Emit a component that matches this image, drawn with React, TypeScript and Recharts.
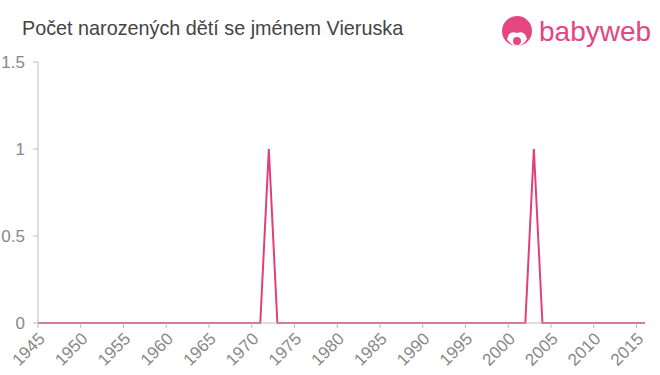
import React from 'react';
import { LineChart, Line, XAxis, YAxis } from 'recharts';

// Years and births per year
const YEARS: number[] = [];
for (let y = 1945; y <= 2016; y++) YEARS.push(y);
const PEAK_YEARS = [1972, 2003];
const COUNTS = YEARS.map((y) => (PEAK_YEARS.includes(y) ? 1 : 0));

const X_TICKS = [1945, 1950, 1955, 1960, 1965, 1970, 1975, 1980, 1985, 1990, 1995, 2000, 2005, 2010, 2015];
const Y_TICKS = [0, 0.5, 1, 1.5];

const TITLE = 'Počet narozených dětí se jménem Vieruska';
const PINK = '#e0407a';
const FONT = '"Liberation Sans", Arial, Helvetica, sans-serif';
const TICK_COLOR = '#888';

const data = YEARS.map((year, i) => ({ year, count: COUNTS[i] }));

function XTick({ x, y, payload }: any) {
  return (
    <text
      x={x + 4}
      y={y + 6}
      fill={TICK_COLOR}
      style={{ fontSize: 17, fontFamily: FONT }}
      textAnchor="end"
      dominantBaseline="central"
      transform={`rotate(-45, ${x + 4}, ${y + 6})`}
    >
      {payload.value}
    </text>
  );
}

function YTick({ x, y, payload }: any) {
  return (
    <text x={x - 6} y={y} fill={TICK_COLOR} style={{ fontSize: 17, fontFamily: FONT }} textAnchor="end" dominantBaseline="central">
      {payload.value}
    </text>
  );
}

function Logo() {
  return (
    <svg width={165} height={42} style={{ position: 'absolute', left: 498, top: 11 }}>
      {/* head */}
      <circle cx={19} cy={20} r={15} fill="#e4467f" />
      <path d="M9 28 Q11 19 19 22 Q27 19 29 28 Q25 35 19 35 Q13 35 9 28 Z" fill="#fff" />
      <circle cx={19} cy={30} r={4} fill="#e4467f" />
      <text x={41} y={30} fill="#e4467f" fontFamily={FONT} fontSize={28} fontWeight={500}>
        babyweb
      </text>
    </svg>
  );
}

export default function App() {
  return (
    <div style={{ position: 'absolute', left: 0, top: 0, width: 660, height: 375, background: '#fff', fontFamily: FONT }}>
      <div style={{ position: 'absolute', left: 22, top: 17, fontSize: 19.8, color: '#444' }}>{TITLE}</div>
      <Logo />
      <LineChart width={660} height={375} data={data} margin={{ top: 62, right: 15, bottom: 0, left: 0 }}>
        <XAxis
          dataKey="year"
          type="number"
          domain={[1945, 2016]}
          ticks={X_TICKS}
          interval={0}
          height={52}
          stroke="#bbb"
          tickSize={5}
          tick={<XTick />}
        />
        <YAxis
          type="number"
          domain={[0, 1.5]}
          ticks={Y_TICKS}
          width={38}
          stroke="#bbb"
          tickSize={5}
          tick={<YTick />}
        />
        <Line
          type="linear"
          dataKey="count"
          stroke={PINK}
          strokeWidth={2}
          dot={false}
          isAnimationActive={false}
        />
      </LineChart>
    </div>
  );
}
